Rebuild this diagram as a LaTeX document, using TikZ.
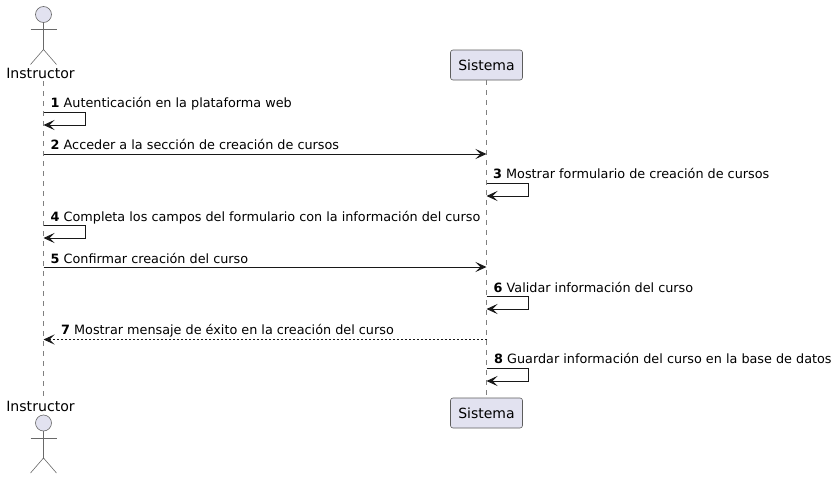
\documentclass[tikz,border=0pt]{standalone}
\usepackage{fontspec}
\setmainfont{DejaVu Sans}
\usetikzlibrary{arrows.meta}
\definecolor{partfill}{HTML}{E2E2F0}
\definecolor{partline}{HTML}{181818}
\tikzset{
    part/.style = {draw = partline!70, fill = partfill, rounded corners = 2.5pt, line width = 0.6pt, minimum width = 72pt, minimum height = 30pt, inner sep = 0pt, font = \fontsize{14}{16}\selectfont},
    actorname/.style = {inner sep = 0pt, font = \fontsize{14.1}{16}\selectfont},
    actorline/.style = {draw = partline!65, line width = 0.6pt},
    life/.style = {draw = partline!55, line width = 0.6pt, dash pattern = on 5pt off 5pt},
    msg/.style = {draw = partline, line width = 1pt, -{Stealth[length = 11pt, width = 10pt, inset = 5pt]}},
    msgtext/.style = {anchor = base west, inner sep = 0pt, font = \fontsize{12.8}{15}\selectfont}
}
\begin{document}
\begin{tikzpicture}[x = 1pt, y = -1pt]
    \useasboundingbox (0, 0) rectangle (836, 479);
    % participants
    \node[actorname] (instTop) at (40.5, 73) {Instructor};
    \node[actorname] (instBot) at (40.5, 406) {Instructor};
    \node[part] (sisTop) at (486.5, 65) {Sistema};
    \node[part] (sisBot) at (486.5, 413) {Sistema};
    \coordinate (instA) at (43.5, 81);
    \coordinate (instB) at (43.5, 398);
    % lifelines
    \draw[life] (instA) -- (instB);
    \draw[life] (sisTop) -- (sisBot);
    % actors
    \foreach \y in {14.5, 423} {
        \draw[actorline, fill = partfill] (43.5, \y) circle (8);
        \draw[actorline] (43.5, \y + 8) -- (43.5, \y + 35);
        \draw[actorline] (30.5, \y + 15) -- (56.5, \y + 15);
        \draw[actorline] (30.5, \y + 50) -- (43.5, \y + 35) -- (56.5, \y + 50);
    }
    % self messages
    \foreach \n/\x/\y in {1/43.5/112, 3/486.5/183, 4/43.5/225, 6/486.5/296, 8/486.5/368} {
        \coordinate (s\n) at (\x, \y);
        \coordinate (e\n) at (\x, \y + 13);
        \draw[msg] (s\n) -- ++(42, 0) |- (e\n);
    }
    % messages between the two
    \coordinate (s2) at (43.5, 154);
    \coordinate (e2) at (486.5, 154);
    \coordinate (s5) at (43.5, 267);
    \coordinate (e5) at (486.5, 267);
    \coordinate (s7) at (486.5, 339.5);
    \coordinate (e7) at (43.5, 339.5);
    \draw[msg] (s2) -- (e2);
    \draw[msg] (s5) -- (e5);
    \draw[msg, dash pattern = on 2pt off 2pt] (s7) -- (e7);
    % labels
    \node[msgtext] (t1) at (50.5, 107) {\textbf{1} Autenticación en la plataforma web};
    \node[msgtext] (t2) at (50.5, 149) {\textbf{2} Acceder a la sección de creación de cursos};
    \node[msgtext] (t3) at (493, 178) {\textbf{3} Mostrar formulario de creación de cursos};
    \node[msgtext] (t4) at (50.5, 221) {\textbf{4} Completa los campos del formulario con la información del curso};
    \node[msgtext] (t5) at (50.5, 263) {\textbf{5} Confirmar creación del curso};
    \node[msgtext] (t6) at (493.5, 292) {\textbf{6} Validar información del curso};
    \node[msgtext] (t7) at (61, 334) {\textbf{7} Mostrar mensaje de éxito en la creación del curso};
    \node[msgtext] (t8) at (494, 363) {\textbf{8} Guardar información del curso en la base de datos};
\end{tikzpicture}
\end{document}
